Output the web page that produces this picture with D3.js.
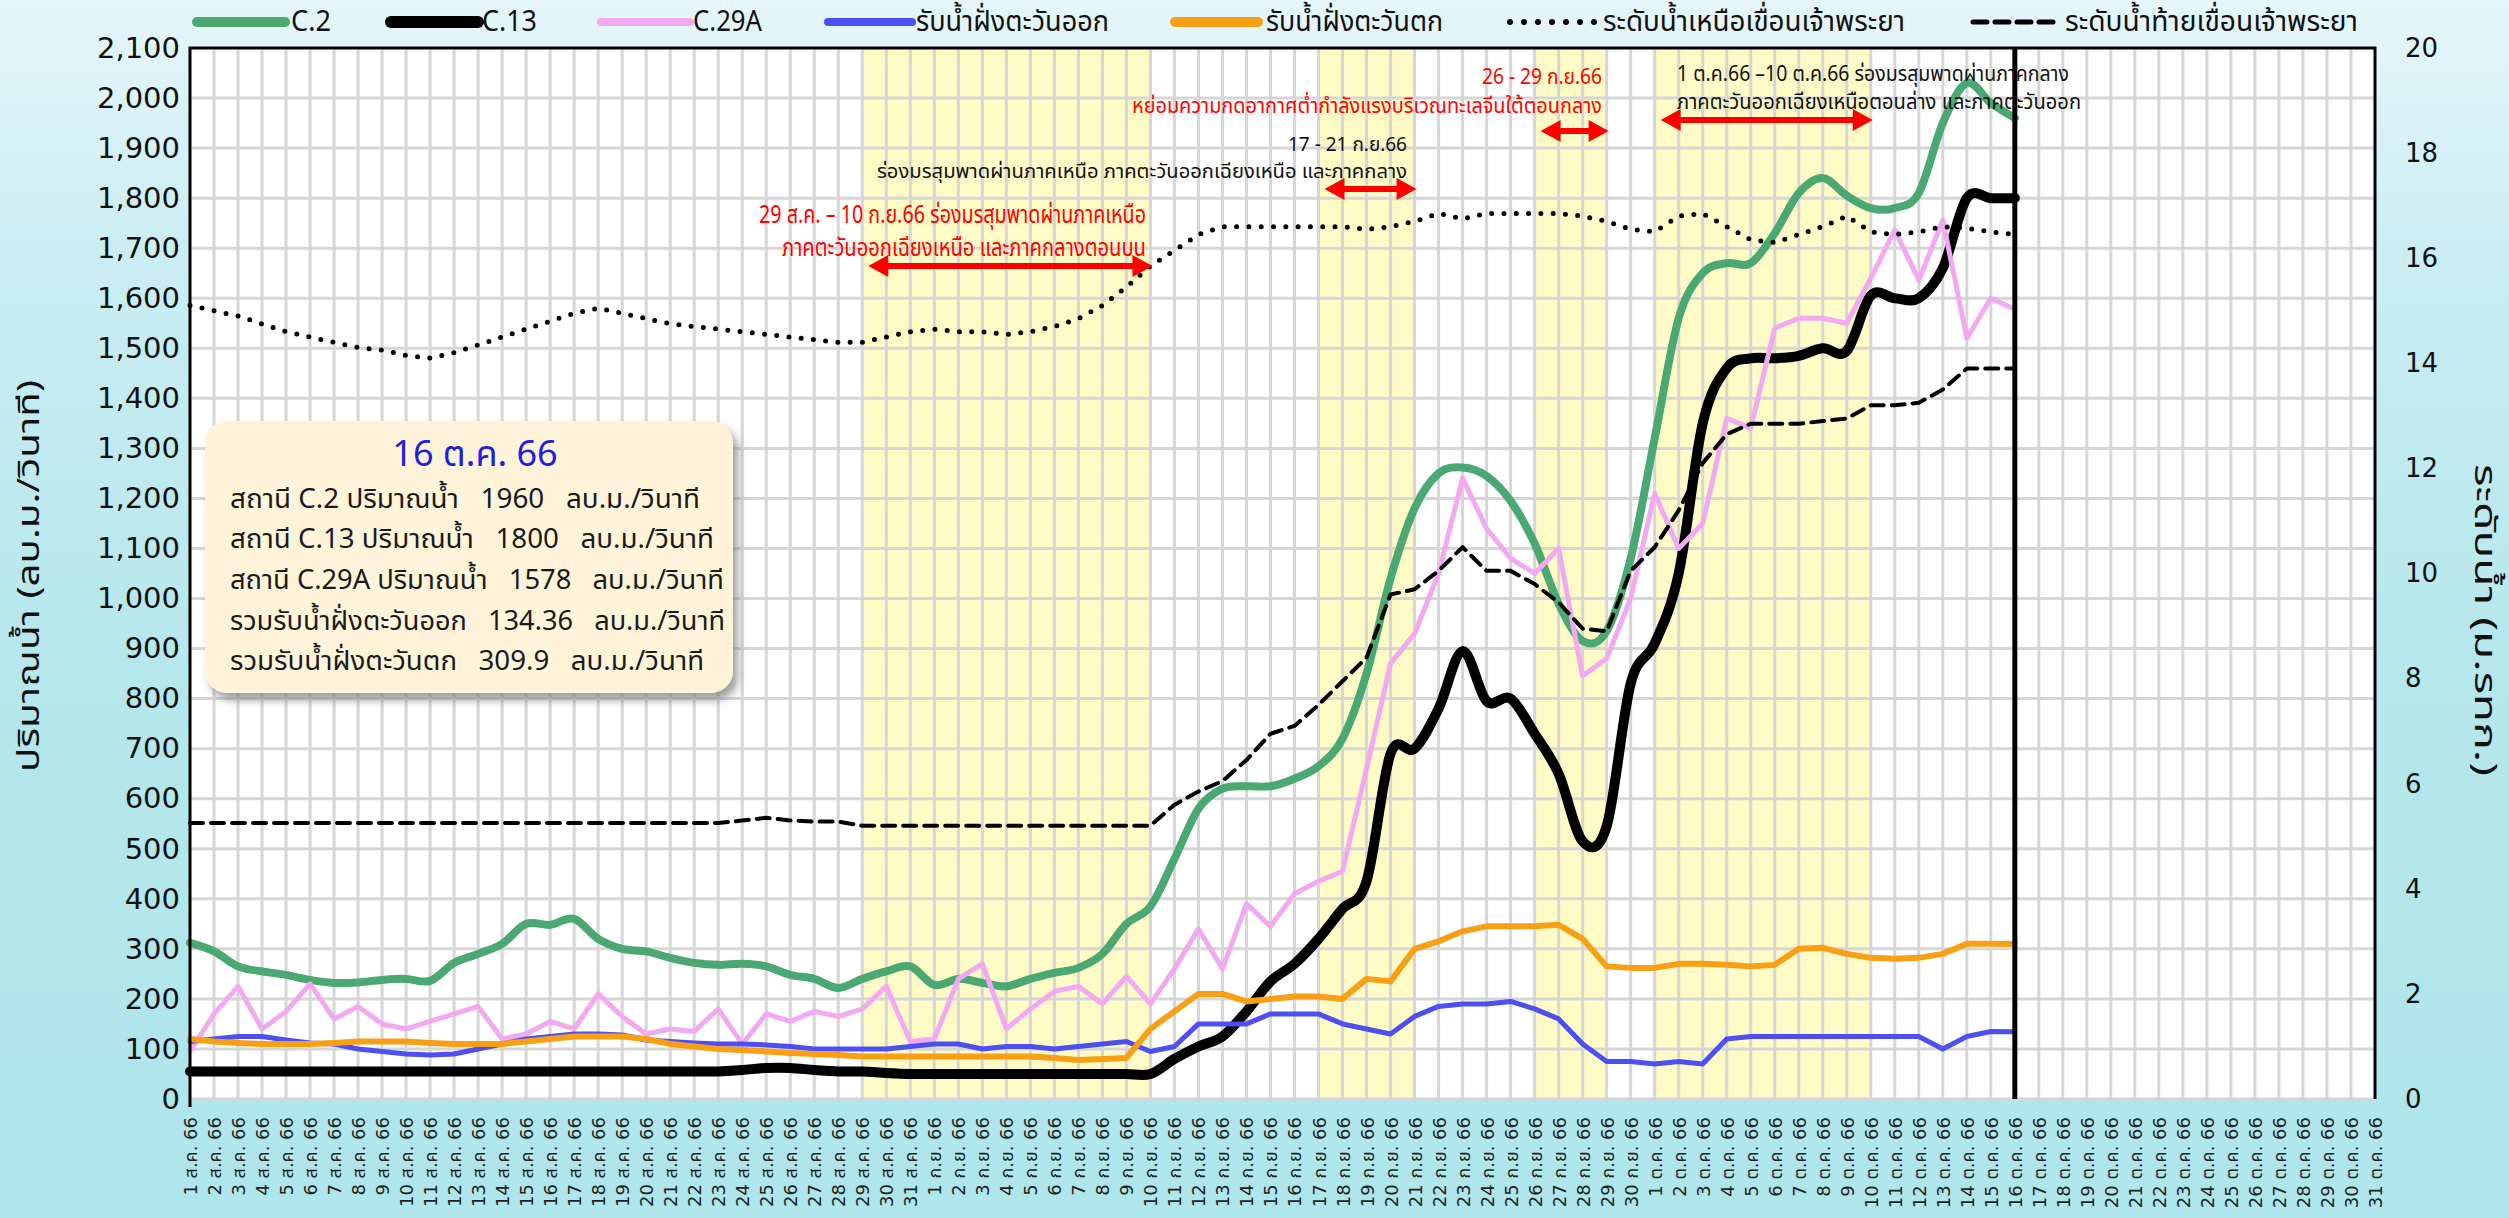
<!DOCTYPE html>
<html lang="th">
<head>
<meta charset="utf-8">
<title>ปริมาณน้ำและระดับน้ำ แม่น้ำเจ้าพระยา</title>
<script src="https://cdn.jsdelivr.net/npm/d3@7/dist/d3.min.js"></script>
<style>
  html, body { margin: 0; padding: 0; background: #b2e7ec; }
  svg { display: block; }
  .thai { font-family: "Noto Sans Thai", "Noto Sans", Tahoma, "DejaVu Sans", sans-serif; }
  .num  { font-family: "DejaVu Sans", Verdana, "Noto Sans Thai", sans-serif; }
</style>
</head>
<body>
<svg id="chart" width="2509" height="1218"></svg>
<script>
// ---- categories: 1 Aug – 31 Oct 2566 ----
const dates = [
  "1 ส.ค. 66","2 ส.ค. 66","3 ส.ค. 66","4 ส.ค. 66","5 ส.ค. 66","6 ส.ค. 66","7 ส.ค. 66","8 ส.ค. 66","9 ส.ค. 66","10 ส.ค. 66",
  "11 ส.ค. 66","12 ส.ค. 66","13 ส.ค. 66","14 ส.ค. 66","15 ส.ค. 66","16 ส.ค. 66","17 ส.ค. 66","18 ส.ค. 66","19 ส.ค. 66","20 ส.ค. 66",
  "21 ส.ค. 66","22 ส.ค. 66","23 ส.ค. 66","24 ส.ค. 66","25 ส.ค. 66","26 ส.ค. 66","27 ส.ค. 66","28 ส.ค. 66","29 ส.ค. 66","30 ส.ค. 66",
  "31 ส.ค. 66",
  "1 ก.ย. 66","2 ก.ย. 66","3 ก.ย. 66","4 ก.ย. 66","5 ก.ย. 66","6 ก.ย. 66","7 ก.ย. 66","8 ก.ย. 66","9 ก.ย. 66","10 ก.ย. 66",
  "11 ก.ย. 66","12 ก.ย. 66","13 ก.ย. 66","14 ก.ย. 66","15 ก.ย. 66","16 ก.ย. 66","17 ก.ย. 66","18 ก.ย. 66","19 ก.ย. 66","20 ก.ย. 66",
  "21 ก.ย. 66","22 ก.ย. 66","23 ก.ย. 66","24 ก.ย. 66","25 ก.ย. 66","26 ก.ย. 66","27 ก.ย. 66","28 ก.ย. 66","29 ก.ย. 66","30 ก.ย. 66",
  "1 ต.ค. 66","2 ต.ค. 66","3 ต.ค. 66","4 ต.ค. 66","5 ต.ค. 66","6 ต.ค. 66","7 ต.ค. 66","8 ต.ค. 66","9 ต.ค. 66","10 ต.ค. 66",
  "11 ต.ค. 66","12 ต.ค. 66","13 ต.ค. 66","14 ต.ค. 66","15 ต.ค. 66","16 ต.ค. 66","17 ต.ค. 66","18 ต.ค. 66","19 ต.ค. 66","20 ต.ค. 66",
  "21 ต.ค. 66","22 ต.ค. 66","23 ต.ค. 66","24 ต.ค. 66","25 ต.ค. 66","26 ต.ค. 66","27 ต.ค. 66","28 ต.ค. 66","29 ต.ค. 66","30 ต.ค. 66",
  "31 ต.ค. 66"
];

// ---- discharge (ลบ.ม./วินาที), 1 Aug – 16 Oct ----
const c2 = [
  312,295,265,255,248,238,232,233,238,240,
  236,272,290,310,350,348,360,320,300,295,
  282,272,268,270,265,248,240,222,240,255,
  265,228,240,232,225,240,252,262,290,350,
  385,480,580,620,625,625,640,665,720,850,
  1040,1180,1250,1262,1245,1195,1110,990,915,935,
  1080,1320,1560,1650,1670,1670,1730,1810,1840,1805,
  1780,1780,1810,1950,2030,1990,1960
];
const c13 = [
  55,55,55,55,55,55,55,55,55,55,
  55,55,55,55,55,55,55,55,55,55,
  55,55,55,58,62,62,58,55,55,52,
  50,50,50,50,50,50,50,50,50,50,
  50,80,105,125,175,235,270,320,380,435,
  690,700,780,895,795,800,730,650,515,545,
  830,910,1050,1350,1460,1480,1480,1485,1500,1495,
  1605,1600,1600,1660,1800,1800,1800
];
const c29a = [
  95,170,225,140,175,230,160,185,150,140,
  155,170,185,120,130,155,140,210,165,130,
  140,135,180,110,170,155,175,165,180,225,
  115,120,240,270,140,180,215,225,190,245,
  190,260,340,260,390,345,410,435,455,660,
  870,930,1050,1240,1140,1080,1050,1100,845,880,
  1000,1210,1100,1150,1360,1340,1540,1560,1560,1550,
  1640,1736,1636,1756,1520,1600,1578
];
const eastBank = [
  115,120,125,125,118,112,110,100,95,90,
  88,90,100,110,120,125,130,130,128,118,
  115,112,110,110,108,105,100,100,100,100,
  105,110,110,100,105,105,100,105,110,115,
  95,105,150,150,150,170,170,170,150,140,
  130,165,185,190,190,195,180,160,110,75,
  75,70,75,70,120,125,125,125,125,125,
  125,125,125,100,125,135,134.36
];
const westBank = [
  120,115,112,110,110,110,112,115,115,115,
  112,110,110,110,115,120,125,125,125,120,
  110,105,100,98,95,92,90,88,85,85,
  85,85,85,85,85,85,82,78,80,82,
  140,175,210,210,195,200,205,205,200,240,
  235,300,315,335,345,345,345,348,320,265,
  262,262,270,270,268,265,268,300,302,290,
  282,280,282,290,310,310,309.9
];

// ---- water levels (ม.รทก.) ----
const levelUpstream = [
  15.1,15.0,14.9,14.75,14.6,14.5,14.4,14.3,14.25,14.15,
  14.1,14.2,14.35,14.5,14.65,14.8,14.95,15.05,14.95,14.85,
  14.75,14.7,14.65,14.6,14.55,14.5,14.45,14.4,14.4,14.5,
  14.6,14.65,14.6,14.6,14.55,14.6,14.7,14.85,15.1,15.45,
  15.85,16.15,16.45,16.6,16.6,16.6,16.6,16.6,16.6,16.55,
  16.6,16.7,16.85,16.75,16.85,16.85,16.85,16.85,16.8,16.7,
  16.55,16.5,16.8,16.85,16.6,16.35,16.3,16.45,16.6,16.8,
  16.5,16.45,16.5,16.6,16.57,16.5,16.45
];
const levelDownstream = [
  5.25,5.25,5.25,5.25,5.25,5.25,5.25,5.25,5.25,5.25,
  5.25,5.25,5.25,5.25,5.25,5.25,5.25,5.25,5.25,5.25,
  5.25,5.25,5.25,5.3,5.35,5.3,5.28,5.28,5.2,5.2,
  5.2,5.2,5.2,5.2,5.2,5.2,5.2,5.2,5.2,5.2,
  5.2,5.6,5.85,6.05,6.45,6.95,7.1,7.5,7.95,8.4,
  9.6,9.7,10.05,10.5,10.05,10.05,9.8,9.45,8.95,8.9,
  10.05,10.5,11.2,12.1,12.65,12.85,12.85,12.85,12.9,12.95,
  13.2,13.2,13.25,13.5,13.9,13.9,13.9
];

// ---- axis ticks ----
const leftTicks  = [0,100,200,300,400,500,600,700,800,900,1000,1100,1200,1300,1400,1500,1600,1700,1800,1900,2000,2100];
const rightTicks = [0,2,4,6,8,10,12,14,16,18,20];

// ---- highlighted periods and their notes ----
const bands = [
  ["29 ส.ค. 66", "10 ก.ย. 66"],
  ["17 ก.ย. 66", "21 ก.ย. 66"],
  ["26 ก.ย. 66", "29 ก.ย. 66"],
  ["1 ต.ค. 66",  "10 ต.ค. 66"]
];
const notes = [
  ["29 ส.ค. – 10 ก.ย.66 ร่องมรสุมพาดผ่านภาคเหนือ", "ภาคตะวันออกเฉียงเหนือ และภาคกลางตอนบน"],
  ["17 - 21 ก.ย.66", "ร่องมรสุมพาดผ่านภาคเหนือ ภาคตะวันออกเฉียงเหนือ และภาคกลาง"],
  ["26 - 29 ก.ย.66", "หย่อมความกดอากาศต่ำกำลังแรงบริเวณทะเลจีนใต้ตอนกลาง"],
  ["1 ต.ค.66 –10 ต.ค.66 ร่องมรสุมพาดผ่านภาคกลาง", "ภาคตะวันออกเฉียงเหนือตอนล่าง และภาคตะวันออก"]
];
const reportDate = "16 ต.ค. 66";

// ================= drawing =================
const W = 2509, H = 1218;
const M = { left: 190, right: 2375, top: 48, bottom: 1099 };

const svg = d3.select("#chart");
const defs = svg.append("defs");

const grad = defs.append("linearGradient").attr("id", "bg")
  .attr("x1", 0).attr("y1", 0).attr("x2", 0).attr("y2", 1);
[["0%", "#e6f6fa"], ["22%", "#c9edf2"], ["55%", "#b5e7ec"], ["100%", "#aee6eb"]]
  .forEach(([o, c]) => grad.append("stop").attr("offset", o).attr("stop-color", c));

const shadow = defs.append("filter").attr("id", "shadow")
  .attr("x", "-10%").attr("y", "-10%").attr("width", "130%").attr("height", "130%");
shadow.append("feDropShadow").attr("dx", 5).attr("dy", 7).attr("stdDeviation", 4)
  .attr("flood-color", "#6d6d6d").attr("flood-opacity", 0.65);

svg.append("rect").attr("width", W).attr("height", H).attr("fill", "url(#bg)");

const x  = d3.scalePoint().domain(dates).range([M.left, M.right]);
const yL = d3.scaleLinear().domain([0, 2100]).range([M.bottom, M.top]);
const yR = d3.scaleLinear().domain([0, 20]).range([M.bottom, M.top]);

// plot background
svg.append("rect")
  .attr("x", M.left).attr("y", M.top)
  .attr("width", M.right - M.left).attr("height", M.bottom - M.top)
  .attr("fill", "#ffffff");

// highlighted periods
svg.append("g").selectAll("rect").data(bands).join("rect")
  .attr("x", d => x(d[0])).attr("width", d => x(d[1]) - x(d[0]))
  .attr("y", M.top).attr("height", M.bottom - M.top)
  .attr("fill", "#fffbc6");

// gridlines
const grid = svg.append("g").attr("stroke", "#d6d6d6").attr("stroke-width", 3);
grid.selectAll("line.gv").data(dates.slice(1, -1)).join("line").attr("class", "gv")
  .attr("x1", d => x(d)).attr("x2", d => x(d)).attr("y1", M.top).attr("y2", M.bottom);
grid.selectAll("line.gh").data(leftTicks.slice(0, -1)).join("line").attr("class", "gh")
  .attr("x1", M.left).attr("x2", M.right).attr("y1", d => yL(d)).attr("y2", d => yL(d));

// series
const smooth = d3.curveCardinal.tension(0);
const series = [
  { values: c2,              scale: yL, color: "#4aa872", width: 8,  curve: smooth },
  { values: c13,             scale: yL, color: "#000000", width: 10, curve: smooth },
  { values: c29a,            scale: yL, color: "#f2a9f2", width: 5,  curve: d3.curveLinear },
  { values: eastBank,        scale: yL, color: "#4d4ff0", width: 5,  curve: d3.curveLinear },
  { values: westBank,        scale: yL, color: "#f7a016", width: 6,  curve: d3.curveLinear },
  { values: levelUpstream,   scale: yR, color: "#000000", width: 5,  curve: d3.curveLinear, dash: "0 12.3", cap: "round" },
  { values: levelDownstream, scale: yR, color: "#000000", width: 4,  curve: d3.curveLinear, dash: "13 8" }
];
const lines = svg.append("g").attr("fill", "none");
series.forEach(s => {
  const gen = d3.line()
    .x((d, i) => x(dates[i]))
    .y(d => s.scale(d))
    .curve(s.curve);
  lines.append("path")
    .attr("d", gen(s.values))
    .attr("stroke", s.color)
    .attr("stroke-width", s.width)
    .attr("stroke-linejoin", "round")
    .attr("stroke-linecap", s.cap || "round")
    .attr("stroke-dasharray", s.dash || null);
});

// frame
svg.append("path")
  .attr("d", `M${M.left},${M.bottom + 8}V${M.top}H${M.right}V${M.bottom}`)
  .attr("fill", "none").attr("stroke", "#000").attr("stroke-width", 3);

// current-day marker
svg.append("line")
  .attr("x1", x(reportDate)).attr("x2", x(reportDate))
  .attr("y1", M.top).attr("y2", M.bottom)
  .attr("stroke", "#000").attr("stroke-width", 5);

// axes
const axL = svg.append("g").attr("class", "num")
  .attr("transform", `translate(${M.left},0)`)
  .call(d3.axisLeft(yL).tickValues(leftTicks).tickFormat(d3.format(",")).tickSize(0).tickPadding(10));
axL.select(".domain").remove();
axL.selectAll("text").attr("font-size", 29).attr("fill", "#111").style("font-family", "DejaVu Sans, Verdana, sans-serif");

const axR = svg.append("g").attr("class", "num")
  .attr("transform", `translate(${M.right},0)`)
  .call(d3.axisRight(yR).tickValues(rightTicks).tickSize(0).tickPadding(30));
axR.select(".domain").remove();
axR.selectAll("text").attr("font-size", 26).attr("fill", "#111").style("font-family", "DejaVu Sans, Verdana, sans-serif");

const axB = svg.append("g")
  .attr("transform", `translate(0,${M.bottom})`)
  .call(d3.axisBottom(x).tickSize(0));
axB.select(".domain").remove();
axB.selectAll("text")
  .attr("transform", "rotate(-90)")
  .attr("text-anchor", "end")
  .attr("x", -18).attr("y", 0).attr("dy", "0.36em")
  .attr("font-size", 18).attr("fill", "#222")
  .style("font-family", "DejaVu Sans, Verdana, 'Noto Sans Thai', sans-serif");

// axis titles
svg.append("text").attr("class", "thai")
  .attr("transform", "translate(30,576) rotate(-90)")
  .attr("text-anchor", "middle").attr("dominant-baseline", "central")
  .attr("font-size", 30).attr("fill", "#111")
  .attr("textLength", 392).attr("lengthAdjust", "spacingAndGlyphs")
  .text("ปริมาณน้ำ (ลบ.ม./วินาที)");
svg.append("text").attr("class", "thai")
  .attr("transform", "translate(2484,620) rotate(90)")
  .attr("text-anchor", "middle").attr("dominant-baseline", "central")
  .attr("font-size", 30).attr("fill", "#111")
  .attr("textLength", 312).attr("lengthAdjust", "spacingAndGlyphs")
  .text("ระดับน้ำ (ม.รทก.)");

// legend
const legendLabels = ["C.2", "C.13", "C.29A", "รับน้ำฝั่งตะวันออก", "รับน้ำฝั่งตะวันตก", "ระดับน้ำเหนือเขื่อนเจ้าพระยา", "ระดับน้ำท้ายเขื่อนเจ้าพระยา"];
const legendPos = [
  { x1: 197,  x2: 285,  tx: 291,  tw: 40,  lw: 10 },
  { x1: 391,  x2: 478,  tx: 482,  tw: 55,  lw: 12 },
  { x1: 601,  x2: 690,  tx: 693,  tw: 69,  lw: 8 },
  { x1: 828,  x2: 912,  tx: 916,  tw: 193, lw: 8 },
  { x1: 1175, x2: 1258, tx: 1266, tw: 177, lw: 10 },
  { x1: 1510, x2: 1595, tx: 1603, tw: 302, lw: 6 },
  { x1: 1973, x2: 2061, tx: 2065, tw: 293, lw: 5 }
];
const legendY = 22;
const lg = svg.append("g");
legendLabels.forEach((lab, i) => {
  const p = legendPos[i], s = series[i];
  lg.append("line")
    .attr("x1", p.x1).attr("x2", p.x2).attr("y1", legendY).attr("y2", legendY)
    .attr("stroke", s.color).attr("stroke-width", p.lw)
    .attr("stroke-linecap", "round")
    .attr("stroke-dasharray", i === 5 ? "0 14" : (i === 6 ? "14 8" : null));
  lg.append("text").attr("class", "thai")
    .attr("x", p.tx).attr("y", legendY).attr("dominant-baseline", "central")
    .attr("font-size", 29).attr("fill", "#111")
    .attr("textLength", p.tw).attr("lengthAdjust", "spacingAndGlyphs")
    .text(lab);
});

// notes above the highlighted periods
const notePos = [
  { anchor: "end",   x: 1146, y: [215, 248], w: [387, 364], size: 25, color: "#ff0000", arrowY: 266 },
  { anchor: "end",   x: 1407, y: [145, 172], w: [119, 530], size: 19, color: "#111111", arrowY: 189 },
  { anchor: "end",   x: 1602, y: [77, 106],  w: [120, 470], size: 21, color: "#ff0000", arrowY: 131 },
  { anchor: "start", x: 1677, y: [74, 102],  w: [392, 404], size: 21, color: "#111111", arrowY: 120 }
];
const ng = svg.append("g");
notes.forEach((lines2, i) => {
  const p = notePos[i];
  lines2.forEach((t, j) => {
    ng.append("text").attr("class", "thai")
      .attr("x", p.x).attr("y", p.y[j])
      .attr("text-anchor", p.anchor).attr("dominant-baseline", "central")
      .attr("font-size", p.size).attr("fill", p.color)
      .attr("textLength", p.w[j]).attr("lengthAdjust", "spacingAndGlyphs")
      .text(t);
  });
});
// red double-headed arrows spanning each period
function arrowPath(x0, x1, y) {
  const hl = 20, hw = 11, t = 3;
  return `M${x0},${y}L${x0 + hl},${y - hw}L${x0 + hl},${y - t}L${x1 - hl},${y - t}L${x1 - hl},${y - hw}` +
         `L${x1},${y}L${x1 - hl},${y + hw}L${x1 - hl},${y + t}L${x0 + hl},${y + t}L${x0 + hl},${y + hw}Z`;
}
ng.selectAll("path.arrow").data(bands).join("path").attr("class", "arrow")
  .attr("d", (d, i) => arrowPath(x(d[0]) + 6, x(d[1]) + 2, notePos[i].arrowY))
  .attr("fill", "#ff0000");

// summary box for the report day
const dayIdx = dates.indexOf(reportDate);
const boxLines = [
  `สถานี C.2 ปริมาณน้ำ   ${c2[dayIdx]}   ลบ.ม./วินาที`,
  `สถานี C.13 ปริมาณน้ำ   ${c13[dayIdx]}   ลบ.ม./วินาที`,
  `สถานี C.29A ปริมาณน้ำ   ${c29a[dayIdx]}   ลบ.ม./วินาที`,
  `รวมรับน้ำฝั่งตะวันออก   ${eastBank[dayIdx]}   ลบ.ม./วินาที`,
  `รวมรับน้ำฝั่งตะวันตก   ${westBank[dayIdx]}   ลบ.ม./วินาที`
];
const box = { x: 205, y: 421, w: 528, h: 272 };
const bx = svg.append("g");
bx.append("rect")
  .attr("x", box.x).attr("y", box.y).attr("width", box.w).attr("height", box.h)
  .attr("rx", 22).attr("fill", "#fff4da").attr("filter", "url(#shadow)");
bx.append("text").attr("class", "thai")
  .attr("x", box.x + box.w / 2 + 6).attr("y", 455)
  .attr("text-anchor", "middle").attr("dominant-baseline", "central")
  .attr("font-size", 36).attr("fill", "#1f20dc")
  .text(reportDate);
const boxY = [499, 539, 580, 621, 661];
const boxW = [470, 484, 494, 495, 474];
boxLines.forEach((t, i) => {
  bx.append("text").attr("class", "thai")
    .attr("x", 230).attr("y", boxY[i]).attr("dominant-baseline", "central")
    .attr("font-size", 27).attr("fill", "#1a1a1a")
    .style("white-space", "pre")
    .attr("textLength", boxW[i]).attr("lengthAdjust", "spacingAndGlyphs")
    .text(t);
});
</script>
</body>
</html>
